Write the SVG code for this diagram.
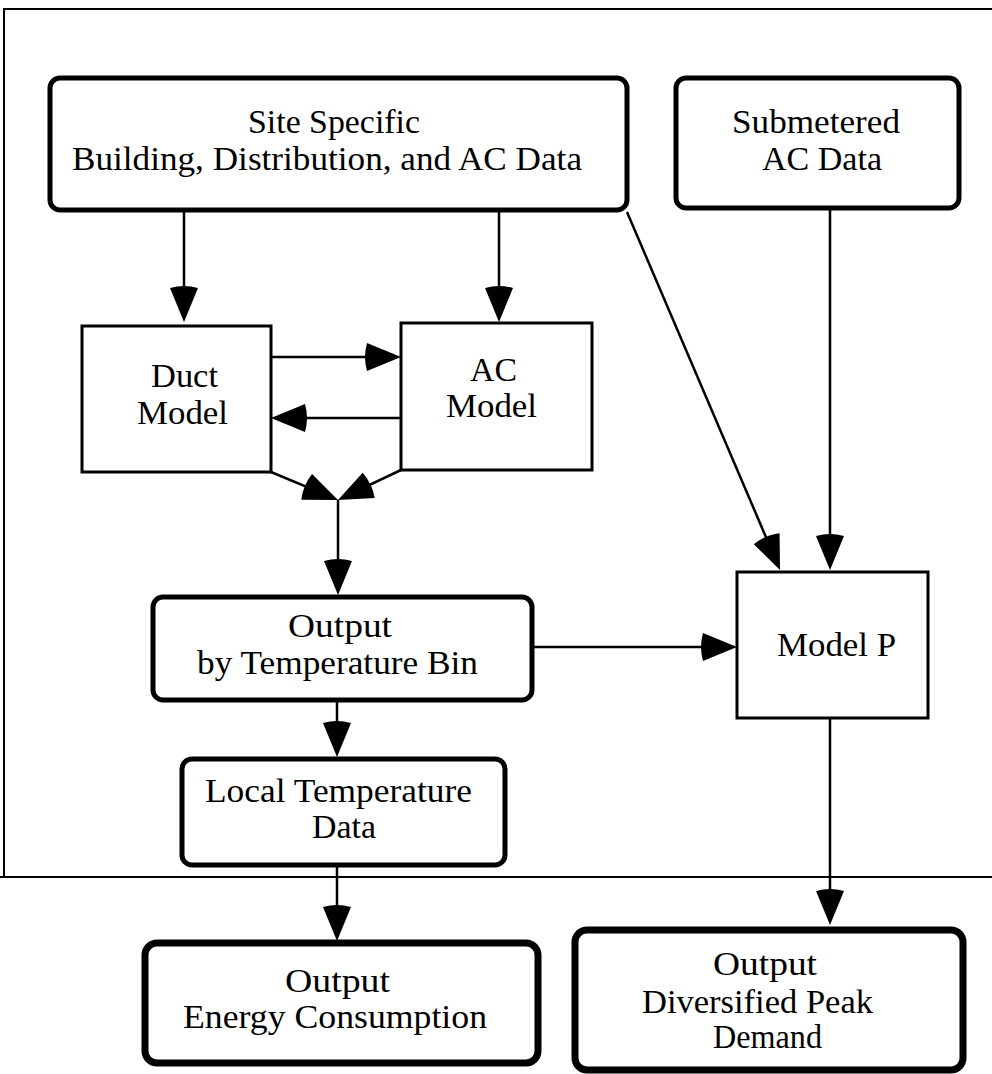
<svg xmlns="http://www.w3.org/2000/svg" width="992" height="1074" viewBox="0 0 992 1074">
<style>
  text { font-family: "Liberation Serif", "Times New Roman", serif; font-size: 33px; fill: #000; text-anchor: middle; }
  .thick { fill: #fff; stroke: #000; stroke-width: 5; }
  .heavy { fill: #fff; stroke: #000; stroke-width: 7; }
  .thin { fill: #fff; stroke: #000; stroke-width: 3; }
  .conn { fill: none; stroke: #000; stroke-width: 2.5; }
  .frame { fill: none; stroke: #000; stroke-width: 2; }
</style>
<defs>
  <marker id="arrow" markerUnits="userSpaceOnUse" markerWidth="40" markerHeight="30" refX="24" refY="14" orient="auto" viewBox="-4 0 40 28">
    <path d="M0,0 L34,14 L0,28 Q-4,14 0,0 Z" fill="#000"/>
  </marker>
</defs>
<rect width="992" height="1074" fill="#fff"/>
<path class="frame" d="M992,9 L4,9 L4,877 M0,877 L992,877"/>

<g id="connectors">
  <path class="conn" d="M184,212 V312" marker-end="url(#arrow)"/>
  <path class="conn" d="M499,212 V312" marker-end="url(#arrow)"/>
  <path class="conn" d="M271,357 H391" marker-end="url(#arrow)"/>
  <path class="conn" d="M401,418 H281" marker-end="url(#arrow)"/>
  <path class="conn" d="M271,472 L328.8,496.1" marker-end="url(#arrow)"/>
  <path class="conn" d="M401,470 L347,495.7" marker-end="url(#arrow)"/>
  <path class="conn" d="M338,500 V585" marker-end="url(#arrow)"/>
  <path class="conn" d="M532,647 H727" marker-end="url(#arrow)"/>
  <path class="conn" d="M627,212 L776.1,560.8" marker-end="url(#arrow)"/>
  <path class="conn" d="M830,208 V560" marker-end="url(#arrow)"/>
  <path class="conn" d="M337,700 V747" marker-end="url(#arrow)"/>
  <path class="conn" d="M337,865 V931" marker-end="url(#arrow)"/>
  <path class="conn" d="M830,718 V915" marker-end="url(#arrow)"/>
</g>

<g id="site">
  <rect class="thick" x="50" y="78" width="577" height="132" rx="10"/>
  <text x="334" y="133" textLength="172" lengthAdjust="spacingAndGlyphs">Site Specific</text>
  <text x="327" y="170" textLength="510" lengthAdjust="spacingAndGlyphs">Building, Distribution, and AC Data</text>
</g>
<g id="submetered">
  <rect class="thick" x="676" y="78" width="283" height="130" rx="10"/>
  <text x="816" y="133" textLength="168" lengthAdjust="spacingAndGlyphs">Submetered</text>
  <text x="822" y="170" textLength="120" lengthAdjust="spacingAndGlyphs">AC Data</text>
</g>
<g id="duct">
  <rect class="thin" x="82" y="326" width="189" height="146"/>
  <text x="184.5" y="387" textLength="67" lengthAdjust="spacingAndGlyphs">Duct</text>
  <text x="182.5" y="424" textLength="91" lengthAdjust="spacingAndGlyphs">Model</text>
</g>
<g id="ac">
  <rect class="thin" x="401" y="323" width="191" height="147"/>
  <text x="493.5" y="381" textLength="47" lengthAdjust="spacingAndGlyphs">AC</text>
  <text x="491.5" y="417" textLength="91" lengthAdjust="spacingAndGlyphs">Model</text>
</g>
<g id="outputbin">
  <rect class="thick" x="153" y="597" width="379" height="103" rx="10"/>
  <text x="340" y="637" textLength="104" lengthAdjust="spacingAndGlyphs">Output</text>
  <text x="337.5" y="674" textLength="281" lengthAdjust="spacingAndGlyphs">by Temperature Bin</text>
</g>
<g id="modelp">
  <rect class="thin" x="737" y="572" width="191" height="146"/>
  <text x="836.5" y="656" textLength="119" lengthAdjust="spacingAndGlyphs">Model P</text>
</g>
<g id="localtemp">
  <rect class="thick" x="182" y="759" width="323" height="106" rx="10"/>
  <text x="338.5" y="802" textLength="267" lengthAdjust="spacingAndGlyphs">Local Temperature</text>
  <text x="344" y="838" textLength="64" lengthAdjust="spacingAndGlyphs">Data</text>
</g>
<g id="energy">
  <rect class="heavy" x="145" y="943" width="393" height="120" rx="12"/>
  <text x="337.5" y="992" textLength="105" lengthAdjust="spacingAndGlyphs">Output</text>
  <text x="335" y="1028" textLength="304" lengthAdjust="spacingAndGlyphs">Energy Consumption</text>
</g>
<g id="peak">
  <rect class="heavy" x="575" y="930" width="388" height="140" rx="12"/>
  <text x="765" y="975" textLength="104" lengthAdjust="spacingAndGlyphs">Output</text>
  <text x="757.5" y="1013" textLength="231" lengthAdjust="spacingAndGlyphs">Diversified Peak</text>
  <text x="767.5" y="1048" textLength="109" lengthAdjust="spacingAndGlyphs">Demand</text>
</g>
</svg>
